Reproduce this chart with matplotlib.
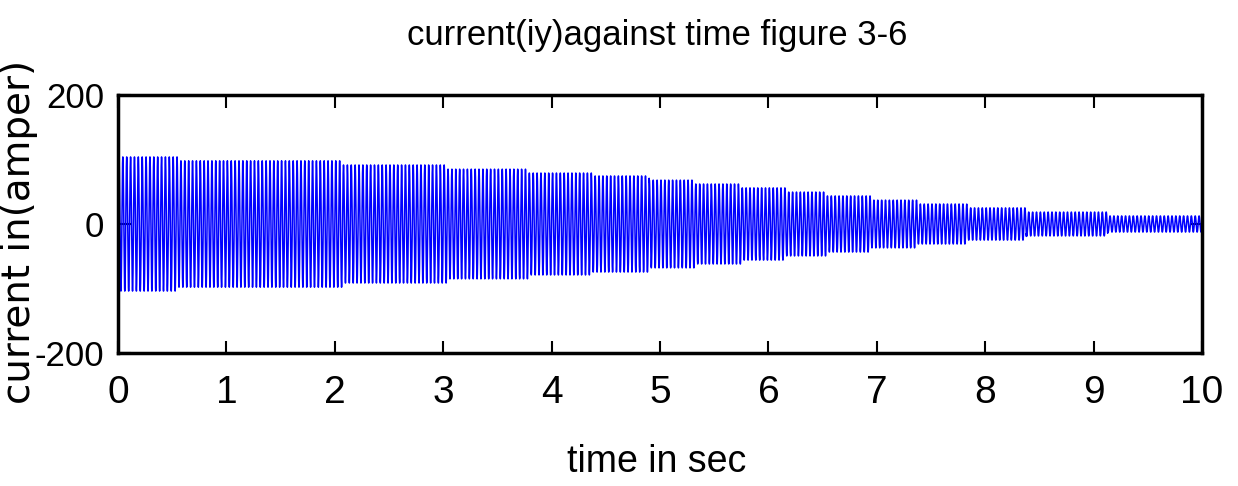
import numpy as np
import matplotlib
matplotlib.use('Agg')
import matplotlib.pyplot as plt

plt.rcParams['axes.unicode_minus'] = False

# envelope of iy: step start times (s) and peak amplitude (A)
step_t = [0, 0.55, 2.07, 3.03, 3.78, 4.37, 4.9, 5.32, 5.75, 6.16, 6.53, 6.95, 7.37, 7.83, 8.38, 9.13]
step_amp = [104, 98, 91.5, 85, 79, 74.5, 68, 62, 56, 49.5, 43.5, 37, 31, 25, 18.5, 12.5]
t_end = 10
carrier_hz = 28  # stripe pitch

xticks = [0, 1, 2, 3, 4, 5, 6, 7, 8, 9, 10]
yticks = [-200, 0, 200]

font = 'Liberation Sans'

t = np.linspace(0, t_end, 60001)
amp = np.array(step_amp)[np.searchsorted(step_t, t, side='right') - 1]
iy = amp * np.sin(2 * np.pi * carrier_hz * t)

fig = plt.figure(figsize=(12.38, 4.86), dpi=100)
ax = fig.add_axes([118/1238, 1 - 353/486, (1202-118)/1238, (353-95)/486])
ax.plot(t, iy, color='#0000ff', lw=1.1)

ax.set_xlim(0, t_end)
ax.set_ylim(-200, 200)
ax.set_xticks(xticks)
ax.set_yticks(yticks)
ax.tick_params(direction='in', length=9, width=1.5, top=True, right=True)
ax.tick_params(axis='x', pad=16, labelsize=28)
ax.tick_params(axis='y', pad=10, labelsize=25)
for lab in ax.get_xticklabels() + ax.get_yticklabels():
    lab.set_family(font)
for s in ax.spines.values():
    s.set_linewidth(2.5)

fig.text(657/1238, 1 - 462/486, 'time in sec', fontsize=27, family=font,
         ha='center', va='center')
fig.text(19/1238, 1 - 232/486, 'current in(amper)', fontsize=28,
         family='DejaVu Sans', rotation=90, ha='center', va='center')
fig.text(657/1238, 1 - 36/486, 'current(iy)against time figure 3-6',
         fontsize=25, family=font, ha='center', va='center')

fig.savefig('out.png', dpi=100)
